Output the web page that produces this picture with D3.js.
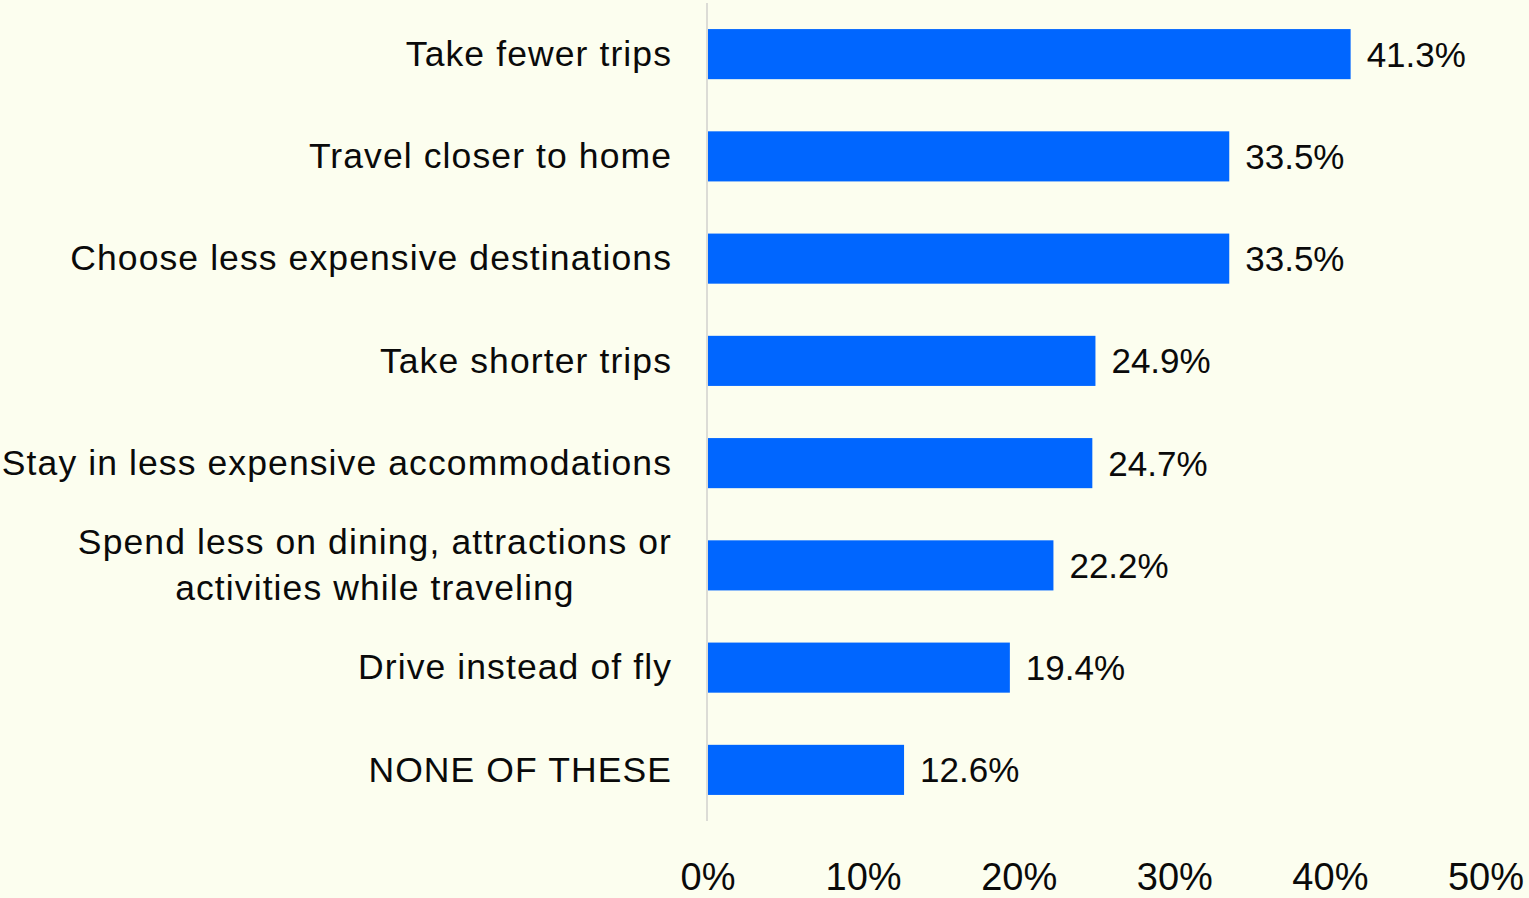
<!DOCTYPE html>
<html>
<head>
<meta charset="utf-8">
<script src="https://cdn.jsdelivr.net/npm/d3@7"></script>
<style>
  html, body { margin: 0; padding: 0; background: #FCFEEF; }
  svg { display: block; }
  text { font-family: "Liberation Sans", Arial, sans-serif; fill: #0a0a0a; }
  .cat { letter-spacing: 1.1px; }
</style>
</head>
<body>
<svg id="chart"></svg>
<script>
// Travel cut-back behaviours, share of respondents
const categories = [
  "Take fewer trips",
  "Travel closer to home",
  "Choose less expensive destinations",
  "Take shorter trips",
  "Stay in less expensive accommodations",
  "Spend less on dining, attractions or|activities while traveling",
  "Drive instead of fly",
  "NONE OF THESE"
];
const shares = [41.3, 33.5, 33.5, 24.9, 24.7, 22.2, 19.4, 12.6];
const tickValues = [0, 10, 20, 30, 40, 50];

const W = 1529, H = 898;
const svg = d3.select("#chart").attr("width", W).attr("height", H);

const x = d3.scaleLinear().domain([0, 50]).range([708, 1486]);
const y = d3.scaleBand().domain(categories).range([3, 821]).paddingInner(0.51).paddingOuter(0.255);

const data = categories.map((c, i) => ({ cat: c, v: shares[i] }));

// bars
svg.append("g").selectAll("rect").data(data).join("rect")
  .attr("x", x(0))
  .attr("y", d => y(d.cat))
  .attr("width", d => x(d.v) - x(0))
  .attr("height", y.bandwidth())
  .attr("fill", "#0066FF");

// baseline
svg.append("line")
  .attr("x1", x(0) - 1).attr("x2", x(0) - 1)
  .attr("y1", 3).attr("y2", 821)
  .attr("stroke", "#DCDCD6").attr("stroke-width", 2);

// value labels
svg.append("g").selectAll("text").data(data).join("text")
  .attr("x", d => x(d.v) + 16)
  .attr("y", d => y(d.cat) + y.bandwidth() / 2)
  .attr("dy", "0.36em")
  .attr("font-size", 35)
  .text(d => d.v.toFixed(1) + "%");

// category labels (multi-line labels are centred as a block, right-aligned to the axis)
const labelRight = 672;
const lineH = 46;
const fs = 35.5;
const lg = svg.append("g");
data.forEach(d => {
  const lines = d.cat.split("|");
  const cy = y(d.cat) + y.bandwidth() / 2 - 1;
  const t = lg.append("text").attr("class", "cat").attr("font-size", fs);
  if (lines.length === 1) {
    t.attr("x", labelRight).attr("y", cy).attr("dy", "0.36em")
      .attr("text-anchor", "end").text(lines[0]);
  } else {
    // measure widest line to centre the block
    const tmp = lg.append("text").attr("class", "cat").attr("font-size", fs).text(lines[0]);
    const wMax = d3.max(lines, l => { tmp.text(l); return tmp.node().getComputedTextLength(); });
    tmp.remove();
    const cx = labelRight - wMax / 2;
    t.attr("text-anchor", "middle");
    lines.forEach((l, i) => {
      t.append("tspan")
        .attr("x", cx)
        .attr("y", cy + (i - (lines.length - 1) / 2) * lineH)
        .attr("dy", "0.36em")
        .text(l);
    });
  }
});

// x axis tick labels
svg.append("g").selectAll("text").data(tickValues).join("text")
  .attr("x", d => x(d))
  .attr("y", 890)
  .attr("text-anchor", "middle")
  .attr("font-size", 38)
  .text(d => d + "%");
</script>
</body>
</html>
